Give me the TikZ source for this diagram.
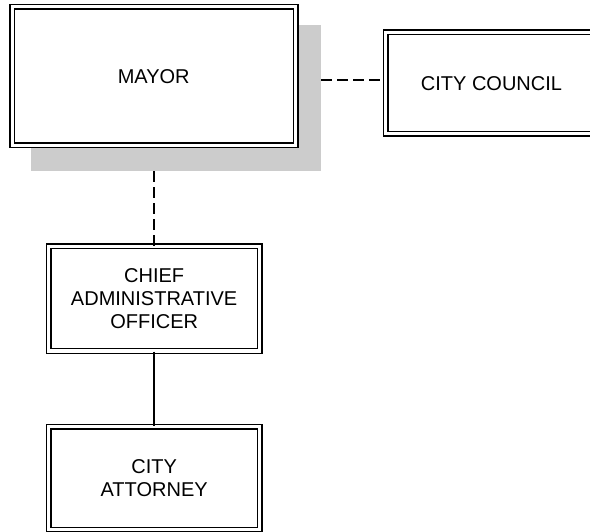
\documentclass[tikz,border=0pt]{standalone}
\usepackage{fontspec}
\setmainfont{Liberation Sans}
\begin{document}
\begin{tikzpicture}[x=1pt,y=-1pt]
        \tikzstyle{box}=[draw, double, line width=1.5pt, double distance=3pt, fill=white, inner sep=0pt, align=center, font=\fontsize{20}{22.7}\selectfont]
        \tikzstyle{shade}=[fill=black!20, inner sep=0pt]
        \tikzstyle{link}=[line width=2.4pt, dash pattern=on 11pt off 5pt]
        \useasboundingbox (0,0) rectangle (590,532);
        \clip (0,0) rectangle (590,532);
        \node[shade, minimum width=290pt, minimum height=146pt] (S) at (176,98) {};
        \node[box, minimum width=283.5pt, minimum height=138.5pt] (M) at (153.75,76.25) {MAYOR};
        \node[box, minimum width=212pt, minimum height=101.5pt] (C) at (491.5,83.25) {CITY COUNCIL};
        \node[box, minimum width=211.3pt, minimum height=104.5pt] (O) at (154.15,298.75) {CHIEF\\ADMINISTRATIVE\\OFFICER};
        \node[box, minimum width=211.3pt, minimum height=102.8pt] (A) at (154.15,478.1) {CITY\\ATTORNEY};
        \coordinate (P) at ([yshift=3.25pt]C.west);
        \draw[link] (P -| S.east) -- (P);
        \draw[link] (O.north |- S.south) -- (O.north);
        \draw[line width=1.4pt] (O.south) -- (A.north);
    \end{tikzpicture}
\end{document}
